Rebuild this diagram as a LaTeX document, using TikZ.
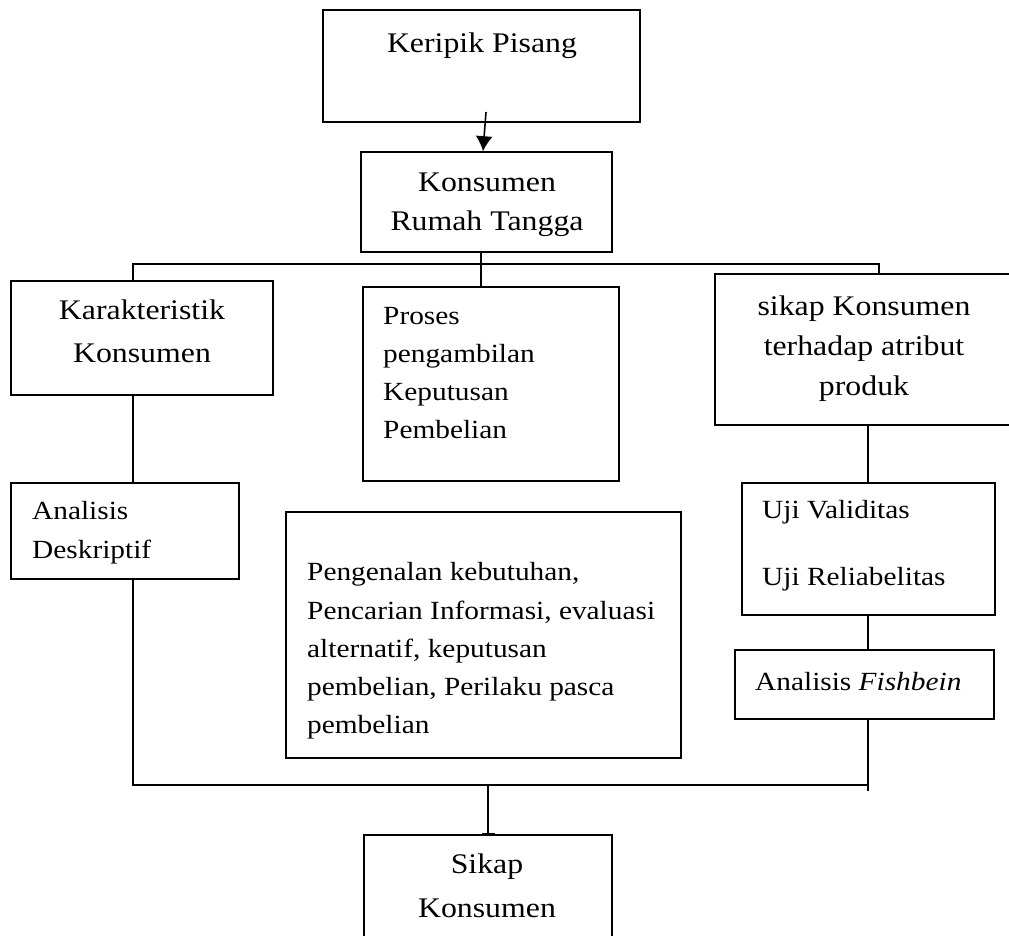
\documentclass[tikz,border=0pt]{standalone}
\usepackage{fontspec}
\setmainfont[FakeStretch=1.12]{Liberation Serif}
\usetikzlibrary{positioning, arrows.meta}

\tikzset{
    box/.style={draw, line width=1.6pt, inner sep=0pt},
    bigtxt/.style={font=\fontsize{28.4}{#1}\selectfont, align=center, inner sep=0pt},
    smalltxt/.style={font=\fontsize{26.2}{#1}\selectfont, align=left, inner sep=0pt, anchor=west},
    link/.style={line width=1.6pt},
}

\begin{document}
\begin{tikzpicture}[x=1pt, y=-1pt]
    \useasboundingbox (0,0) rectangle (1009,935);

    % boxes
    \node[box, minimum width=317, minimum height=112] (keripik) at (481.5,66) {};
    \node[box, minimum width=251, minimum height=100] (konsumen) at (486.5,202) {};
    \node[box, minimum width=262, minimum height=114] (karakter) at (142,338) {};
    \node[box, minimum width=256, minimum height=194] (proses) at (491,384) {};
    \node[box, minimum width=295, minimum height=151] (sikapatr) at (862.5,349.5) {};
    \node[box, minimum width=228, minimum height=96] (deskriptif) at (125,531) {};
    \node[box, minimum width=395, minimum height=246] (pengenalan) at (483.5,635) {};
    \node[box, minimum width=253, minimum height=132] (uji) at (868.5,549) {};
    \node[box, minimum width=259, minimum height=69] (fishbein) at (864.5,684.5) {};
    \node[box, minimum width=248, minimum height=130] (sikapkons) at (488,900) {};

    % texts
    \node[bigtxt=40] (tkeripik) at (482,46) {Keripik Pisang};
    \node[bigtxt=39] (tkonsumen) at (487,205) {Konsumen\\Rumah Tangga};
    \node[bigtxt=43] (tkarakter) at (142,331) {Karakteristik\\Konsumen};
    \node[smalltxt=38] (tproses) at (383,373) {Proses\\pengambilan\\Keputusan\\Pembelian};
    \node[bigtxt=40] (tsikapatr) at (864,349) {sikap Konsumen\\terhadap atribut\\produk};
    \node[smalltxt=38.5] (tdeskriptif) at (32,532.5) {Analisis\\Deskriptif};
    \node[smalltxt=38.3] (tpengenalan) at (307,651) {Pengenalan kebutuhan,\\Pencarian Informasi, evaluasi\\alternatif, keputusan\\pembelian, Perilaku pasca\\pembelian};
    \node[smalltxt=66.7] (tuji) at (762,546) {Uji Validitas\\Uji Reliabelitas};
    \node[smalltxt=38] (tfishbein) at (755,681.5) {Analisis \textit{Fishbein}};
    \node[bigtxt=44] (tsikapkons) at (487,886) {Sikap\\Konsumen};

    % connectors
    \coordinate (arrtail) at (486,112);
    \coordinate (busL) at (133,264);
    \coordinate (busM) at (481,264);
    \coordinate (busR) at (879,264);
    \coordinate (botL) at (133,785);
    \coordinate (botM) at (488,785);
    \coordinate (botR) at (868,785);
    \coordinate (botend) at (868,791);

    \draw[link, -{Latex[length=15pt, width=17pt]}] (arrtail) -- ([xshift=-3.5pt]konsumen.north);
    \draw[link] (konsumen.south -| busM) -- (proses.north -| busM);
    \draw[link] (karakter.north -| busL) -- (busL) -- (busR) -- (sikapatr.north -| busR);
    \draw[link] (karakter.south -| busL) -- (deskriptif.north -| busL);
    \draw[link] (deskriptif.south -| botL) -- (botL) -- (botR);
    \draw[link] (sikapatr.south -| botR) -- (uji.north -| botR);
    \draw[link] (uji.south -| botR) -- (fishbein.north -| botR);
    \draw[link] (fishbein.south -| botR) -- (botend);
    \draw[link, -{Bar[width=13pt]}] (botM) -- (sikapkons.north -| botM);

\end{tikzpicture}
\end{document}
